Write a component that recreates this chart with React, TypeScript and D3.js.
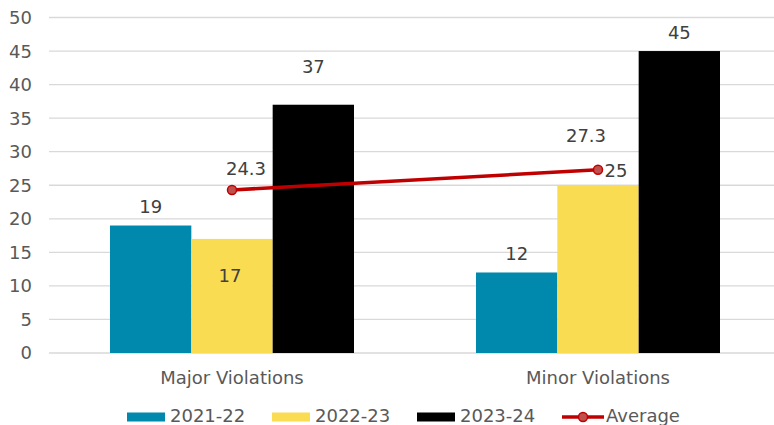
import React from "react";
import * as d3 from "d3";

const categories = ["Major Violations", "Minor Violations"];
const seriesNames = ["2021-22", "2022-23", "2023-24"];
const values2021 = [19, 12];
const values2022 = [17, 25];
const values2023 = [37, 45];
const averageValues = [24.3, 27.3];
const yTickValues = [0, 5, 10, 15, 20, 25, 30, 35, 40, 45, 50];

const seriesColors = ["#0089AD", "#F9DC52", "#000000"];
const lineColor = "#C00000";
const textColor = "#595959";
const font = "'DejaVu Sans', Verdana, sans-serif";

// hand-placed label nudges (as in the original chart)
const barLabelNudge: Record<string, [number, number]> = {
  "1-0": [-2, 43 + 12.5],
  "2-0": [0, -19],
  "1-1": [18, 4],
};
const avgLabelNudge: [number, number][] = [
  [14, -15],
  [-12, -28],
];

const W = 774;
const H = 425;

const App = () => {
  const seriesValues = [values2021, values2022, values2023];

  const x = d3.scaleBand().domain(categories).range([49, 781]);
  const xs = d3
    .scaleBand()
    .domain(seriesNames)
    .range([0, x.bandwidth()])
    .paddingOuter(0.75);
  const y = d3.scaleLinear().domain([0, 50]).range([353, 17.5]);

  const line = d3
    .line<number>()
    .x((d, i) => x(categories[i])! + x.bandwidth() / 2)
    .y((d) => y(d));

  return (
    <svg
      width={W}
      height={H}
      style={{ position: "absolute", left: 0, top: 0 }}
      fontFamily={font}
      fontSize={18}
    >
      <rect width={W} height={H} fill="#fff" />
      {yTickValues.map((t) => (
        <g key={t}>
          <line x1={49} x2={W} y1={y(t)} y2={y(t)} stroke="#D9D9D9" strokeWidth={1.3} />
          <text x={32} y={y(t)} dy="0.36em" textAnchor="end" fill={textColor}>
            {t}
          </text>
        </g>
      ))}

      {seriesValues.map((vals, si) =>
        vals.map((v, ci) => (
          <rect
            key={`${si}-${ci}`}
            x={x(categories[ci])! + xs(seriesNames[si])!}
            y={y(v)}
            width={xs.bandwidth()}
            height={y(0) - y(v)}
            fill={seriesColors[si]}
          />
        ))
      )}

      {seriesValues.map((vals, si) =>
        vals.map((v, ci) => {
          const n = barLabelNudge[`${si}-${ci}`] || [0, 0];
          return (
            <text
              key={`l${si}-${ci}`}
              x={x(categories[ci])! + xs(seriesNames[si])! + xs.bandwidth() / 2 + n[0]}
              y={y(v) - 12.5 + n[1]}
              textAnchor="middle"
              fill="#404040"
            >
              {v}
            </text>
          );
        })
      )}

      <path d={line(averageValues)!} fill="none" stroke={lineColor} strokeWidth={3.5} />
      {averageValues.map((v, i) => {
        const cx = x(categories[i])! + x.bandwidth() / 2;
        return (
          <g key={`a${i}`}>
            <circle cx={cx} cy={y(v)} r={4.5} fill="#C0504D" stroke={lineColor} strokeWidth={1.5} />
            <text
              x={cx + avgLabelNudge[i][0]}
              y={y(v) + avgLabelNudge[i][1]}
              textAnchor="middle"
              fill="#404040"
            >
              {v}
            </text>
          </g>
        );
      })}

      {categories.map((c) => (
        <text
          key={c}
          x={x(c)! + x.bandwidth() / 2}
          y={384}
          textAnchor="middle"
          fill={textColor}
        >
          {c}
        </text>
      ))}

      {/* legend */}
      {seriesNames.map((s, i) => (
        <g key={s} transform={`translate(${127 + i * 145},0)`}>
          <rect x={0} y={412.5} width={38} height={9} fill={seriesColors[i]} />
          <text x={43} y={422} fill={textColor}>
            {s}
          </text>
        </g>
      ))}
      <g transform={`translate(${127 + 3 * 145},0)`}>
        <line x1={0} x2={42} y1={417} y2={417} stroke={lineColor} strokeWidth={3.5} />
        <circle cx={21} cy={417} r={4.5} fill="#C0504D" stroke={lineColor} strokeWidth={1.5} />
        <text x={44} y={422} fill={textColor}>
          Average
        </text>
      </g>
    </svg>
  );
};

export default App;
